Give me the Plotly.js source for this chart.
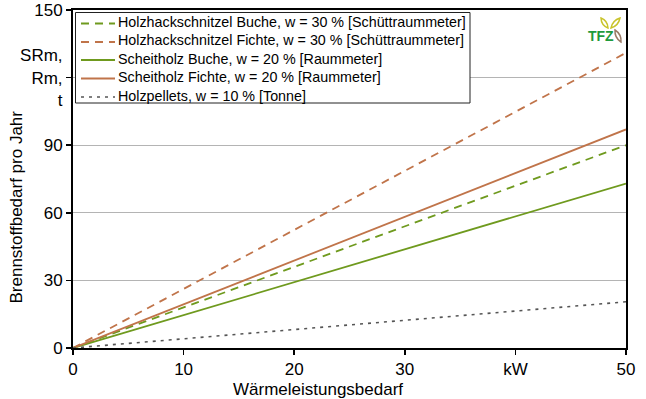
<!DOCTYPE html>
<html><head><meta charset="utf-8">
<script src="https://cdn.plot.ly/plotly-3.0.1.min.js"></script>
<style>html,body{margin:0;padding:0;background:#fff}#c{width:646px;height:399px}</style>
</head><body><div id="c"></div>
<script>
const xKW = [0, 50];
const hhsBuche = [0, 90];
const hhsFichte = [0, 131];
const scheitBuche = [0, 73];
const scheitFichte = [0, 97];
const pellets = [0, 20.5];
const names = [
  'Holzhackschnitzel Buche, w = 30 % [Schüttraummeter]',
  'Holzhackschnitzel Fichte, w = 30 % [Schüttraummeter]',
  'Scheitholz Buche, w = 20 % [Raummeter]',
  'Scheitholz Fichte, w = 20 % [Raummeter]',
  'Holzpellets, w = 10 % [Tonne]'
];
const xTickVals = [0, 10, 20, 30, 40, 50];
const xTickText = ['0', '10', '20', '30', 'kW', '50'];
const yTickVals = [0, 30, 60, 90, 120, 150];
const yTickText = ['0', '30', '60', '90', 'SRm,<br>Rm,<br>t', '150'];
const xTitle = 'Wärmeleistungsbedarf';
const yTitle = 'Brennstoffbedarf pro Jahr';

const green = '#6f9a1e', brown = '#c0744a', grey = '#555555';
const styles = [
  {color: green, width: 1.8, dash: '8px,6px'},
  {color: brown, width: 1.8, dash: '8px,6px'},
  {color: green, width: 1.8},
  {color: brown, width: 1.8},
  {color: grey, width: 1.6, dash: '3px,5px'}
];
const series = [hhsBuche, hhsFichte, scheitBuche, scheitFichte, pellets];
const traces = series.map((y, i) => ({type: 'scatter', mode: 'lines', x: xKW, y: y,
  name: names[i], line: styles[i], hoverinfo: 'skip', showlegend: false}));

// pixel -> paper helpers (plot area 73..626 x 10..348)
const L = 73, R = 626, T = 10, B = 348;
const px = x => (x - L) / (R - L), py = y => (B - y) / (B - T);
function leaf(x1, y1, x2, y2, bulge) {
  const mx = (x1 + x2) / 2, my = (y1 + y2) / 2;
  const dx = x2 - x1, dy = y2 - y1, len = Math.hypot(dx, dy);
  const nx = -dy / len * bulge, ny = dx / len * bulge;
  return `M${px(x1)},${py(y1)} Q${px(mx + nx)},${py(my + ny)} ${px(x2)},${py(y2)} Q${px(mx - nx)},${py(my - ny)} ${px(x1)},${py(y1)} Z`;
}
const shapes = [
  {type: 'path', xref: 'paper', yref: 'paper', path: leaf(608, 28, 601, 18, 4), line: {color: '#c9c42c', width: 1.5}, fillcolor: 'rgba(0,0,0,0)'},
  {type: 'path', xref: 'paper', yref: 'paper', path: leaf(611, 28, 620, 18, 4), line: {color: '#c9c42c', width: 1.5}, fillcolor: 'rgba(0,0,0,0)'},
  {type: 'path', xref: 'paper', yref: 'paper', path: leaf(621, 42, 615, 30, 4), line: {color: '#9a7a66', width: 1.5}, fillcolor: 'rgba(0,0,0,0)'},
  // legend box
  {type: 'rect', xref: 'paper', yref: 'paper', layer: 'above', x0: px(75.5), x1: px(470), y0: py(12.5), y1: py(103),
    line: {color: '#222', width: 1}, fillcolor: '#fff'}
];
const annotations = [
  {xref: 'paper', yref: 'paper', x: px(601), y: py(36), xanchor: 'center', yanchor: 'middle',
    text: '<b>TFZ</b>', showarrow: false, font: {size: 14, color: '#1f9a3c'}},
  {xref: 'paper', yref: 'paper', x: px(318), y: py(389), xanchor: 'center', yanchor: 'middle',
    text: xTitle, showarrow: false, font: {size: 17, color: '#000'}},
  {xref: 'paper', yref: 'paper', x: px(15.5), y: py(207), xanchor: 'center', yanchor: 'middle', textangle: -90,
    text: yTitle, showarrow: false, font: {size: 17, color: '#000'}}
];
const rowY = [23.5, 42, 60, 78.5, 97];
names.forEach((n, i) => {
  shapes.push({type: 'line', xref: 'paper', yref: 'paper', layer: 'above',
    x0: px(81), x1: px(115), y0: py(rowY[i]), y1: py(rowY[i]), line: styles[i]});
  annotations.push({xref: 'paper', yref: 'paper', x: px(116), y: py(rowY[i] - 1.5), xanchor: 'left', yanchor: 'middle',
    text: n, showarrow: false, font: {size: 14.3, color: '#000'}});
});

const layout = {
  width: 646, height: 399,
  margin: {l: 73, r: 20, t: 10, b: 51},
  paper_bgcolor: '#fff', plot_bgcolor: '#fff',
  font: {family: 'Liberation Sans, Arial, sans-serif', color: '#000'},
  showlegend: false,
  xaxis: {range: [0, 50], tickvals: xTickVals, ticktext: xTickText, showgrid: false,
    zeroline: false, showline: true, linecolor: '#000', linewidth: 2, mirror: true,
    ticks: 'outside', ticklen: 5, tickwidth: 1.5, tickcolor: '#000', tickfont: {size: 17}},
  yaxis: {range: [0, 150], tickvals: yTickVals, ticktext: yTickText, showgrid: true,
    gridcolor: '#b4b4b4', gridwidth: 1, zeroline: false, showline: true, linecolor: '#000',
    linewidth: 2, mirror: true, ticks: 'outside', ticklen: 5, tickwidth: 1.5, tickcolor: '#000',
    tickfont: {size: 17}},
  shapes: shapes,
  annotations: annotations
};
Plotly.newPlot('c', traces, layout, {staticPlot: true, displayModeBar: false});
</script></body></html>
